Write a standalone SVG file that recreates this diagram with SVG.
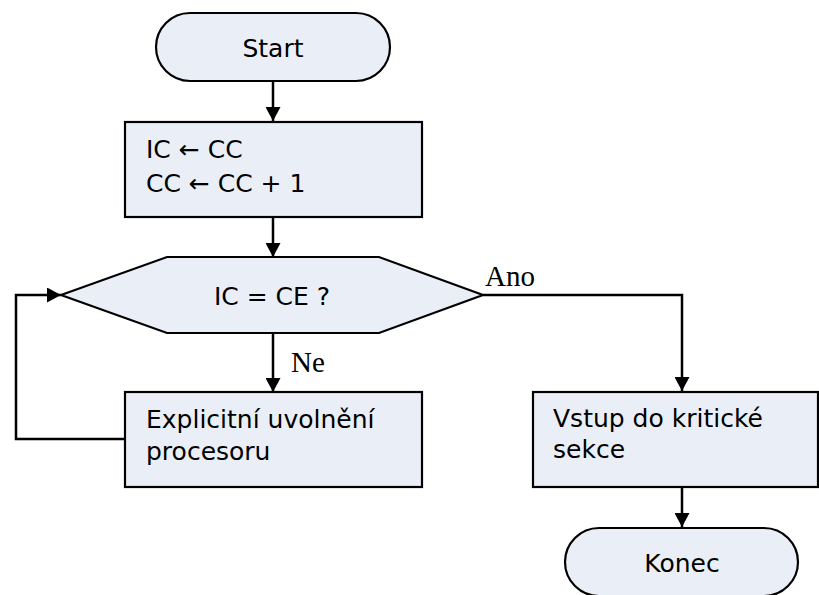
<svg xmlns="http://www.w3.org/2000/svg" width="819" height="595" viewBox="0 0 819 595">
  <style>
    .shape { fill: #eaeff7; stroke: #000; stroke-width: 2.2; }
    .txt { font-family: "DejaVu Sans", Verdana, sans-serif; font-size: 25px; fill: #000; }
    .lbl { font-family: "Liberation Serif", "Times New Roman", serif; font-size: 29px; fill: #000; }
    .line { fill: none; stroke: #000; stroke-width: 2.5; }
  </style>
  <defs>
    <marker id="arrow" viewBox="0 0 14 15" refX="14" refY="7.5" markerWidth="14" markerHeight="15" markerUnits="userSpaceOnUse" orient="auto">
      <path d="M0,0 L14,7.5 L0,15 Z" fill="#000"/>
    </marker>
  </defs>
  <rect width="819" height="595" fill="#fff"/>

  <!-- connectors -->
  <g id="connectors">
    <path class="line" d="M273,81 L273,121" marker-end="url(#arrow)"/>
    <path class="line" d="M273,217 L273,257" marker-end="url(#arrow)"/>
    <path class="line" d="M273,333 L273,392" marker-end="url(#arrow)"/>
    <path class="line" d="M125,439 L16,439 L16,295 L61,295" marker-end="url(#arrow)"/>
    <path class="line" d="M483,295 L682,295 L682,391" marker-end="url(#arrow)"/>
    <path class="line" d="M682,487 L682,527" marker-end="url(#arrow)"/>
    <text class="lbl" x="485" y="286">Ano</text>
    <text class="lbl" x="291" y="372">Ne</text>
  </g>

  <g id="start">
    <rect class="shape" x="156" y="13" width="234" height="68" rx="34" ry="34"/>
    <text class="txt" x="273" y="57" text-anchor="middle">Start</text>
  </g>

  <g id="assign">
    <rect class="shape" x="125" y="122" width="297" height="95"/>
    <text class="txt" x="146" y="158">IC ← CC</text>
    <text class="txt" x="146" y="192">CC ← CC + 1</text>
  </g>

  <g id="test">
    <polygon class="shape" points="61,295 167,257 379,257 483,295 379,333 167,333"/>
    <text class="txt" x="272" y="305" text-anchor="middle">IC = CE ?</text>
  </g>

  <g id="yield">
    <rect class="shape" x="125" y="392" width="297" height="95"/>
    <text class="txt" x="146" y="428">Explicitní uvolnění</text>
    <text class="txt" x="146" y="460">procesoru</text>
  </g>

  <g id="critical">
    <rect class="shape" x="533" y="392" width="285" height="95"/>
    <text class="txt" x="553" y="427">Vstup do kritické</text>
    <text class="txt" x="553" y="458">sekce</text>
  </g>

  <g id="end">
    <rect class="shape" x="565" y="528" width="233" height="68" rx="34" ry="34"/>
    <text class="txt" x="682" y="572" text-anchor="middle">Konec</text>
  </g>
</svg>
